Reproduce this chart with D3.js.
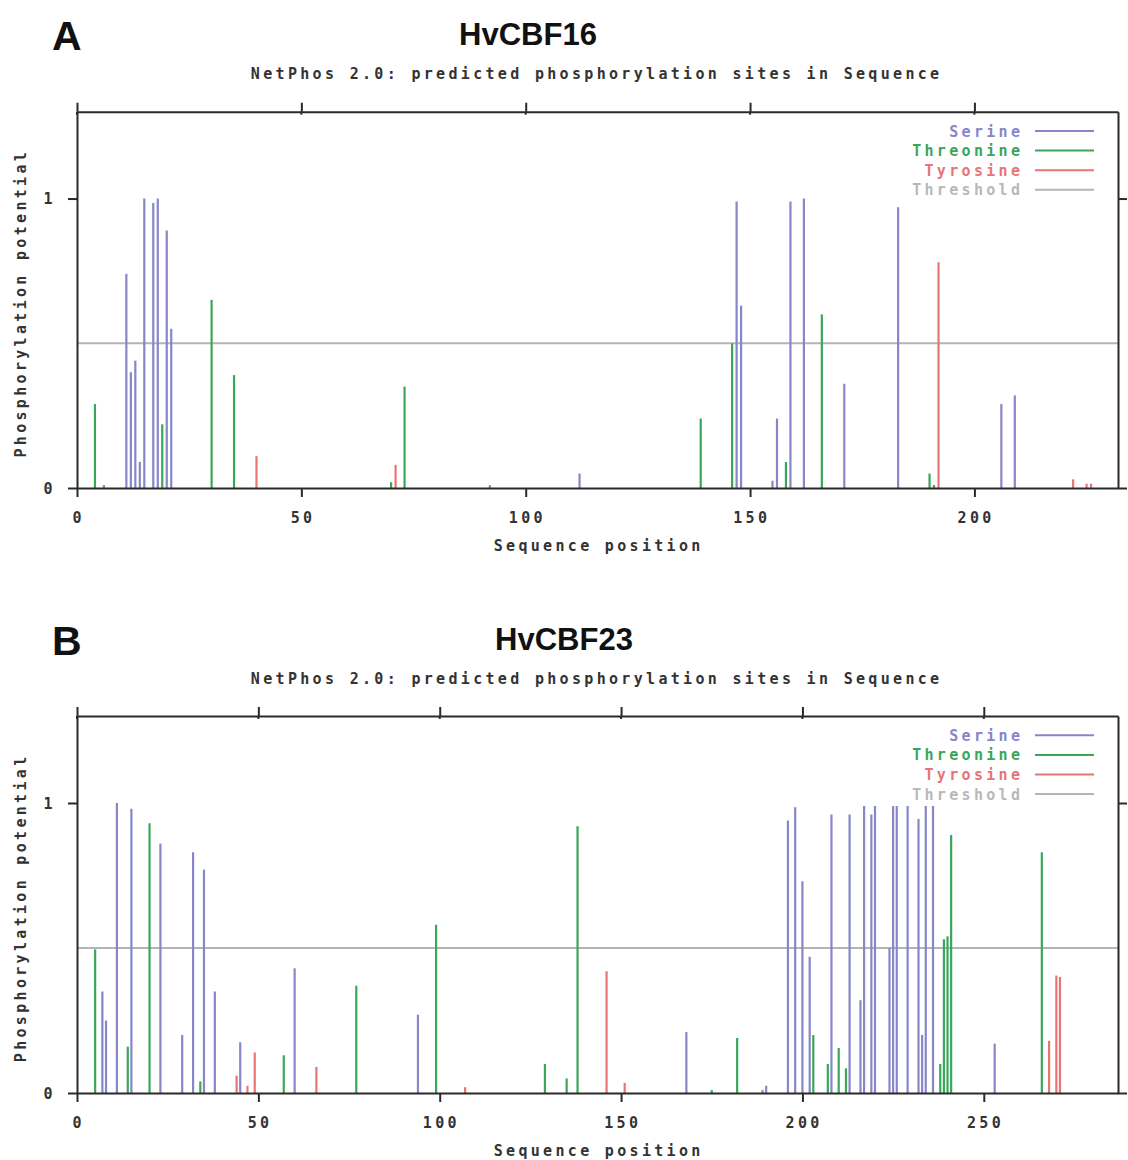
<!DOCTYPE html>
<html>
<head>
<meta charset="utf-8">
<script src="https://cdn.jsdelivr.net/npm/d3@7"></script>
<style>
  html, body { margin: 0; padding: 0; background: #fff; }
  svg { display: block; }
</style>
</head>
<body>
<svg id="chart" width="1128" height="1160"></svg>
<script>
// ---- Data: NetPhos 2.0 predictions, [sequence position, potential] ----
const panelLetters = ["A", "B"];
const proteinNames = ["HvCBF16", "HvCBF23"];
const subtitleText = "NetPhos 2.0: predicted phosphorylation sites in Sequence";
const xAxisTitle = "Sequence position";
const yAxisTitle = "Phosphorylation potential";
const seriesNames = ["Serine", "Threonine", "Tyrosine", "Threshold"];
const thresholdValue = 0.5;
const sequenceLengths = [232, 287];
const xTickValuesA = [0, 50, 100, 150, 200];
const xTickValuesB = [0, 50, 100, 150, 200, 250];
const yTickValues = [0, 1];

const serineA = [[6,0.01],[11,0.74],[12,0.40],[13,0.44],[14,0.09],[15,1.0],[17,0.985],[18,1.0],
  [20,0.89],[21,0.55],[92,0.01],[112,0.05],[147,0.99],[148,0.63],[155,0.025],[156,0.24],
  [159,0.99],[162,1.0],[171,0.36],[183,0.97],[206,0.29],[209,0.32]];
const threonineA = [[4,0.29],[19,0.22],[30,0.65],[35,0.39],[70,0.02],[73,0.35],[139,0.24],
  [146,0.50],[158,0.09],[166,0.60],[190,0.05],[191,0.01]];
const tyrosineA = [[40,0.11],[71,0.08],[192,0.78],[222,0.03],[225,0.015],[226,0.015]];

const serineB = [[7,0.35],[8,0.25],[11,1.0],[15,0.98],[23,0.86],[29,0.20],[32,0.83],[35,0.77],
  [38,0.35],[45,0.175],[60,0.43],[94,0.27],[168,0.21],[189,0.01],[190,0.025],[196,0.94],
  [198,0.985],[200,0.73],[202,0.47],[208,0.96],[213,0.96],[216,0.32],[217,0.99],[219,0.96],
  [220,0.99],[224,0.50],[225,0.99],[226,0.99],[229,0.99],[232,0.945],[233,0.20],[234,0.99],
  [236,0.99],[253,0.17]];
const threonineB = [[5,0.495],[14,0.16],[20,0.93],[34,0.04],[57,0.13],[77,0.37],[99,0.58],
  [129,0.10],[135,0.05],[138,0.92],[175,0.01],[182,0.19],[203,0.20],[207,0.10],[210,0.155],
  [212,0.085],[238,0.10],[239,0.53],[240,0.54],[241,0.89],[266,0.83]];
const tyrosineB = [[44,0.06],[47,0.025],[49,0.14],[66,0.09],[107,0.02],[146,0.42],[151,0.035],
  [268,0.18],[270,0.405],[271,0.40]];

// ---- Styling ----
const colors = { Serine: "#8686c9", Threonine: "#3aa65a", Tyrosine: "#e87474", Threshold: "#b4b4b4" };
const axisColor = "#2a2a2a";
const monoFont = "'DejaVu Sans Mono', 'Liberation Mono', monospace";
const monoSize = 15;
const charW = 12.35;
const glyphAdvance = monoSize * 0.602;

const panels = [
  { letter: panelLetters[0], name: proteinNames[0], len: sequenceLengths[0], ticks: xTickValuesA,
    series: [serineA, threonineA, tyrosineA], top: 111.7, bottom: 488, titleX: 528, y0: 0 },
  { letter: panelLetters[1], name: proteinNames[1], len: sequenceLengths[1], ticks: xTickValuesB,
    series: [serineB, threonineB, tyrosineB], top: 716, bottom: 1093, titleX: 564, y0: 605 }
];

const svg = d3.select("#chart");
const left = 77, right = 1118;

function monoText(g, str, x, y, anchor, fill) {
  return g.append("text")
    .attr("x", x).attr("y", y)
    .attr("text-anchor", anchor)
    .attr("font-family", monoFont)
    .attr("font-size", monoSize)
    .attr("font-weight", "bold")
    .attr("fill", fill || "#333")
    .attr("textLength", str.length * charW - (charW - glyphAdvance))
    .attr("lengthAdjust", "spacing")
    .text(str);
}

panels.forEach(p => {
  const g = svg.append("g");
  const x = d3.scaleLinear().domain([0, p.len]).range([left, right]);
  const y = d3.scaleLinear().domain([0, 1.3]).range([p.bottom, p.top]);

  // Headings
  g.append("text").attr("x", 52).attr("y", p.y0 + 50)
    .attr("font-family", "'Liberation Sans', Arial, sans-serif")
    .attr("font-weight", "bold").attr("font-size", 41).attr("fill", "#111")
    .text(p.letter);
  g.append("text").attr("x", p.titleX).attr("y", p.y0 + 45)
    .attr("text-anchor", "middle")
    .attr("font-family", "'Liberation Sans', Arial, sans-serif")
    .attr("font-weight", "bold").attr("font-size", 31).attr("fill", "#111")
    .text(p.name);
  monoText(g, subtitleText, 595, p.y0 + 79, "middle");

  // Threshold line
  g.append("line")
    .attr("x1", x(0)).attr("x2", x(p.len))
    .attr("y1", y(thresholdValue)).attr("y2", y(thresholdValue))
    .attr("stroke", colors.Threshold).attr("stroke-width", 2);

  // Impulse bars per residue type
  p.series.forEach((data, i) => {
    g.append("g").selectAll("line").data(data).join("line")
      .attr("x1", d => x(d[0])).attr("x2", d => x(d[0]))
      .attr("y1", y(0)).attr("y2", d => y(d[1]))
      .attr("stroke", colors[seriesNames[i]])
      .attr("stroke-width", 2.2);
  });

  // Frame and axes
  const axStyle = sel => {
    sel.selectAll("path").attr("stroke", axisColor).attr("stroke-width", 2);
    sel.selectAll("line").attr("stroke", axisColor).attr("stroke-width", 2);
    sel.selectAll("text").remove();
  };
  g.append("g").attr("transform", `translate(0,${p.bottom})`)
    .call(d3.axisBottom(x).tickValues(p.ticks).tickSize(9).tickSizeOuter(0)).call(axStyle);
  g.append("g").attr("transform", `translate(0,${p.top})`)
    .call(d3.axisTop(x).tickValues(p.ticks).tickSize(9).tickSizeOuter(0)).call(axStyle);
  g.append("g").attr("transform", `translate(${left},0)`)
    .call(d3.axisLeft(y).tickValues(yTickValues).tickSize(9).tickSizeOuter(0)).call(axStyle);
  g.append("g").attr("transform", `translate(${right},0)`)
    .call(d3.axisRight(y).tickValues(yTickValues).tickSize(9).tickSizeOuter(0)).call(axStyle);
  // short inner stubs on the top ticks
  g.append("g").selectAll("line").data(p.ticks).join("line")
    .attr("x1", d => x(d)).attr("x2", d => x(d))
    .attr("y1", p.top).attr("y2", p.top + 3)
    .attr("stroke", axisColor).attr("stroke-width", 2);

  // Tick labels
  p.ticks.forEach(t => monoText(g, String(t), x(t), p.bottom + 34.5, "middle"));
  yTickValues.forEach(t => monoText(g, String(t), 48, y(t) + 5.5, "middle"));

  // Axis titles
  monoText(g, xAxisTitle, 597, p.bottom + 63, "middle");
  const yl = monoText(g, yAxisTitle, 0, 0, "middle");
  yl.attr("transform", `translate(26,${(p.top + p.bottom) / 2 + 5}) rotate(-90)`);

  // Legend
  seriesNames.forEach((s, i) => {
    const ly = p.top + 19.3 + i * 19.6;
    monoText(g, s, 1020, ly + 5.5, "end", s === "Threshold" ? "#b8b8b8" : colors[s]);
    g.append("line").attr("x1", 1035).attr("x2", 1094)
      .attr("y1", ly).attr("y2", ly)
      .attr("stroke", colors[s]).attr("stroke-width", 2);
  });
});
</script>
</body>
</html>
